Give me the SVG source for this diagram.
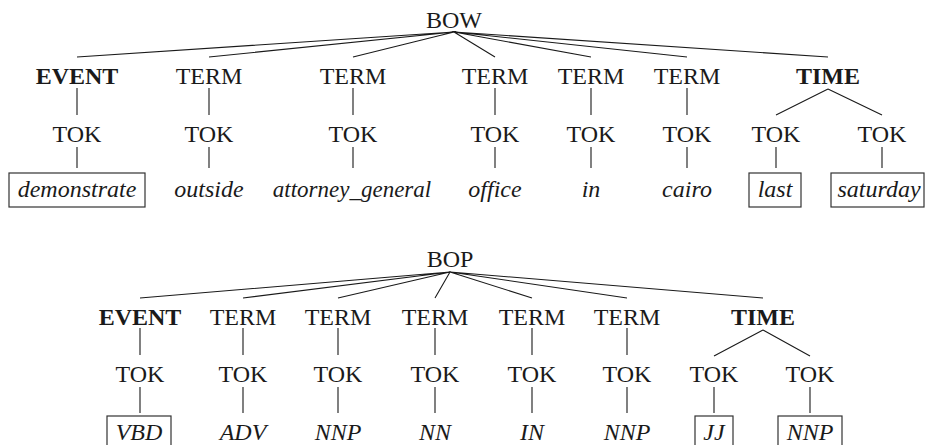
<svg xmlns="http://www.w3.org/2000/svg" width="925" height="445" viewBox="0 0 925 445">
<style>
text{font-family:"Liberation Serif","Times New Roman",serif;font-size:24px;fill:#1a1a1a;text-anchor:middle}
.b{font-weight:bold}
.i{font-style:italic}
.s{font-size:23px}
.edge{stroke:#1a1a1a;stroke-width:1.1;fill:none}
.box{stroke:#333;stroke-width:1.2;fill:none}
</style>
<rect width="925" height="445" fill="#fff"/>
<g id="connectors" class="edge">
<path d="M454 32L77 57M454 32L209 57M454 32L353 57M454 32L495 57M454 32L591 57M454 32L687 57M454 32L828 57"/>
<path d="M77 88V115M209 88V115M353 88V115M495 88V115M591 88V115M687 88V115"/>
<path d="M828 89L776 115M828 89L882 115"/>
<path d="M77 147V168M209 147V168M353 147V168M495 147V168M591 147V168M687 147V168M776 147V168M882 147V168"/>
<path d="M450 272L140 298M450 272L243 298M450 272L338 298M450 272L435 298M450 272L532 298M450 272L627 298M450 272L763 298"/>
<path d="M140 328V355M243 328V355M338 328V355M435 328V355M532 328V355M627 328V355"/>
<path d="M763 330L714 356M763 330L810 356"/>
<path d="M140 387V413M243 387V413M338 387V413M435 387V413M532 387V413M627 387V413M714 387V413M810 387V413"/>
</g>
<g id="bow"><text x="454" y="28">BOW</text></g>
<g id="bow-event"><text class="b" x="77" y="84">EVENT</text></g>
<g id="bow-term1"><text x="209" y="84">TERM</text></g>
<g id="bow-term2"><text x="353" y="84">TERM</text></g>
<g id="bow-term3"><text x="495" y="84">TERM</text></g>
<g id="bow-term4"><text x="591" y="84">TERM</text></g>
<g id="bow-term5"><text x="687" y="84">TERM</text></g>
<g id="bow-time"><text class="b" x="828" y="84">TIME</text></g>
<g id="bow-tok1"><text x="77" y="142">TOK</text></g>
<g id="bow-tok2"><text x="209" y="142">TOK</text></g>
<g id="bow-tok3"><text x="353" y="142">TOK</text></g>
<g id="bow-tok4"><text x="495" y="142">TOK</text></g>
<g id="bow-tok5"><text x="591" y="142">TOK</text></g>
<g id="bow-tok6"><text x="687" y="142">TOK</text></g>
<g id="bow-tok7"><text x="776" y="142">TOK</text></g>
<g id="bow-tok8"><text x="882" y="142">TOK</text></g>
<g id="bow-leaf1"><rect class="box" x="9" y="173" width="136" height="34"/><text class="i" x="77" y="197">demonstrate</text></g>
<g id="bow-leaf2"><text class="i" x="209" y="197">outside</text></g>
<g id="bow-leaf3"><text class="i s" x="352" y="197">attorney_general</text></g>
<g id="bow-leaf4"><text class="i" x="495" y="197">office</text></g>
<g id="bow-leaf5"><text class="i" x="591" y="197">in</text></g>
<g id="bow-leaf6"><text class="i" x="687" y="197">cairo</text></g>
<g id="bow-leaf7"><rect class="box" x="749" y="173" width="52" height="34"/><text class="i" x="775" y="197">last</text></g>
<g id="bow-leaf8"><rect class="box" x="831" y="173" width="93" height="34"/><text class="i" x="879" y="197">saturday</text></g>

<g id="bop"><text x="450" y="267">BOP</text></g>
<g id="bop-event"><text class="b" x="140" y="325">EVENT</text></g>
<g id="bop-term1"><text x="243" y="325">TERM</text></g>
<g id="bop-term2"><text x="338" y="325">TERM</text></g>
<g id="bop-term3"><text x="435" y="325">TERM</text></g>
<g id="bop-term4"><text x="532" y="325">TERM</text></g>
<g id="bop-term5"><text x="627" y="325">TERM</text></g>
<g id="bop-time"><text class="b" x="763" y="325">TIME</text></g>
<g id="bop-tok1"><text x="140" y="382">TOK</text></g>
<g id="bop-tok2"><text x="243" y="382">TOK</text></g>
<g id="bop-tok3"><text x="338" y="382">TOK</text></g>
<g id="bop-tok4"><text x="435" y="382">TOK</text></g>
<g id="bop-tok5"><text x="532" y="382">TOK</text></g>
<g id="bop-tok6"><text x="627" y="382">TOK</text></g>
<g id="bop-tok7"><text x="714" y="382">TOK</text></g>
<g id="bop-tok8"><text x="810" y="382">TOK</text></g>
<g id="bop-leaf1"><rect class="box" x="107" y="416" width="64" height="34"/><text class="i" x="139" y="440">VBD</text></g>
<g id="bop-leaf2"><text class="i" x="243" y="440">ADV</text></g>
<g id="bop-leaf3"><text class="i" x="338" y="440">NNP</text></g>
<g id="bop-leaf4"><text class="i" x="435" y="440">NN</text></g>
<g id="bop-leaf5"><text class="i" x="532" y="440">IN</text></g>
<g id="bop-leaf6"><text class="i" x="627" y="440">NNP</text></g>
<g id="bop-leaf7"><rect class="box" x="695" y="416" width="38" height="34"/><text class="i" x="714" y="440">JJ</text></g>
<g id="bop-leaf8"><rect class="box" x="778" y="416" width="64" height="34"/><text class="i" x="810" y="440">NNP</text></g>
</svg>
